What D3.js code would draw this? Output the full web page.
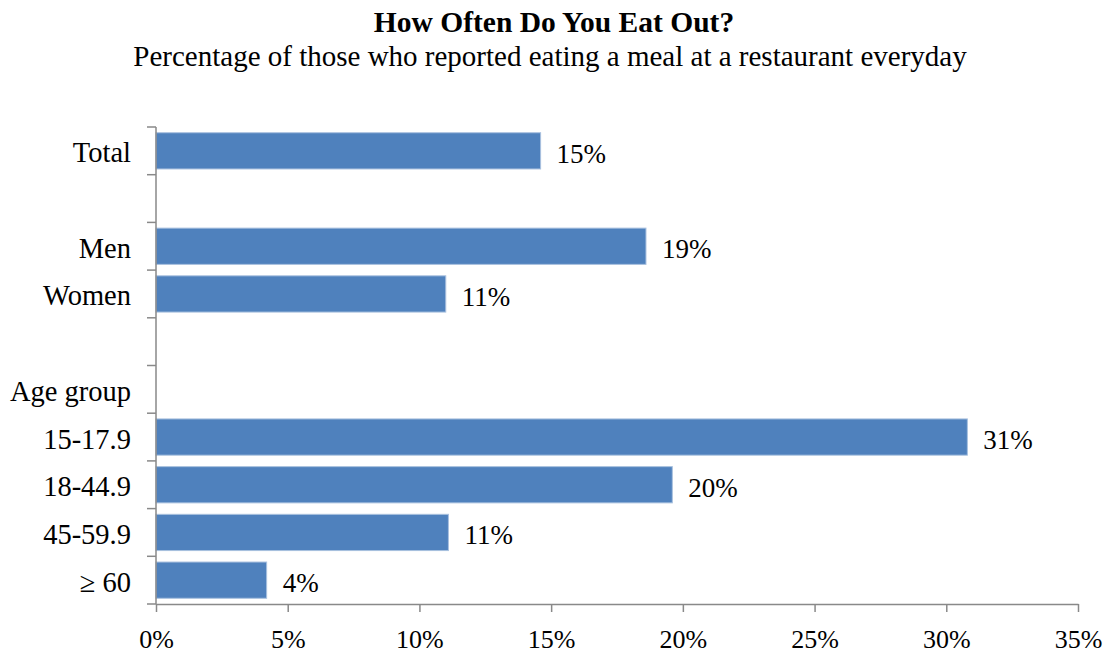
<!DOCTYPE html>
<html>
<head>
<meta charset="utf-8">
<script src="https://cdn.jsdelivr.net/npm/d3@7"></script>
<style>
  html, body { margin: 0; padding: 0; background: #fff; }
  svg, svg text { font-family: "Liberation Serif", "Times New Roman", serif; }
  svg { display: block; }
</style>
</head>
<body>
<svg id="chart" width="1109" height="654"></svg>
<script>
// Row keys (blank spacer rows keep the grouping gaps)
const rowKeys   = ["total", "gap1", "men", "women", "gap2", "agehdr", "a15", "a18", "a45", "a60"];
const rowLabels = ["Total", "", "Men", "Women", "", "Age group", "15-17.9", "18-44.9", "45-59.9", "\u2265 60"];
// Share eating at a restaurant every day (fraction); null = no bar
const rowValues = [0.146, null, 0.186, 0.110, null, null, 0.308, 0.196, 0.111, 0.042];
const xTicks    = [0, 0.05, 0.10, 0.15, 0.20, 0.25, 0.30, 0.35];

const titleText    = "How Often Do You Eat Out?";
const subtitleText = "Percentage of those who reported eating a meal at a restaurant everyday";

const svg = d3.select("#chart");
const W = 1109;
const serif = "'Liberation Serif', 'Times New Roman', serif";
const plot = { left: 156, right: 1078, top: 127, bottom: 604 };

const x = d3.scaleLinear().domain([0, 0.35]).range([plot.left, plot.right]);
const y = d3.scaleBand().domain(rowKeys).range([plot.top, plot.bottom])
  .paddingInner(0.24).paddingOuter(0.12);

const axisColor = "#898989";
const pct = d3.format(".0%");

// Titles
svg.append("text")
  .attr("x", 554).attr("y", 32)
  .attr("text-anchor", "middle")
  .attr("font-weight", "bold")
  .attr("font-size", 29.5)
  .attr("fill", "#000")
  .text(titleText);

svg.append("text")
  .attr("x", 550).attr("y", 66)
  .attr("text-anchor", "middle")
  .attr("font-size", 29)
  .attr("fill", "#000")
  .text(subtitleText);

// Bars
const rows = rowKeys.map((k, i) => ({ key: k, label: rowLabels[i], value: rowValues[i] }));
const withValue = rows.filter(d => d.value !== null);

svg.append("g").selectAll("rect")
  .data(withValue)
  .join("rect")
  .attr("x", x(0))
  .attr("y", d => y(d.key))
  .attr("width", d => x(d.value) - x(0))
  .attr("height", y.bandwidth())
  .attr("fill", "#4F81BD")
  .attr("stroke", "#a9c1df")
  .attr("stroke-width", 1);

// Value labels
svg.append("g").selectAll("text")
  .data(withValue)
  .join("text")
  .attr("x", d => x(d.value) + 16)
  .attr("y", d => y(d.key) + y.bandwidth() / 2 + 12)
  .attr("font-size", 27)
  .attr("fill", "#000")
  .text(d => pct(d.value));

// X axis
const xAxis = svg.append("g")
  .attr("transform", `translate(0,${plot.bottom})`)
  .call(d3.axisBottom(x).tickValues(xTicks).tickFormat(pct)
    .tickSizeInner(8).tickSizeOuter(0).tickPadding(18))
  .attr("font-family", serif)
  .attr("font-size", 26);
xAxis.select(".domain").attr("stroke", axisColor).attr("stroke-width", 1.5);
xAxis.selectAll(".tick line").attr("stroke", axisColor).attr("stroke-width", 1.5);
xAxis.selectAll(".tick text").attr("fill", "#000");

// Y axis: line plus tick marks at the row boundaries
const gY = svg.append("g");
const half = (y.step() - y.bandwidth()) / 2;
const boundaries = rowKeys.map(k => y(k) - half).concat([y(rowKeys[rowKeys.length - 1]) + y.bandwidth() + half]);
gY.append("line")
  .attr("x1", x(0)).attr("x2", x(0))
  .attr("y1", boundaries[0]).attr("y2", boundaries[boundaries.length - 1])
  .attr("stroke", axisColor).attr("stroke-width", 1.5);
gY.selectAll("line.tick")
  .data(boundaries)
  .join("line")
  .attr("class", "tick")
  .attr("x1", x(0) - 9).attr("x2", x(0))
  .attr("y1", d => d).attr("y2", d => d)
  .attr("stroke", axisColor).attr("stroke-width", 1.5);

// Category labels
gY.selectAll("text")
  .data(rows.filter(d => d.label !== ""))
  .join("text")
  .attr("x", x(0) - 25)
  .attr("y", d => y(d.key) + y.bandwidth() / 2 + 11.5)
  .attr("text-anchor", "end")
  .attr("font-size", 28.5)
  .attr("fill", "#000")
  .text(d => d.label);
</script>
</body>
</html>
